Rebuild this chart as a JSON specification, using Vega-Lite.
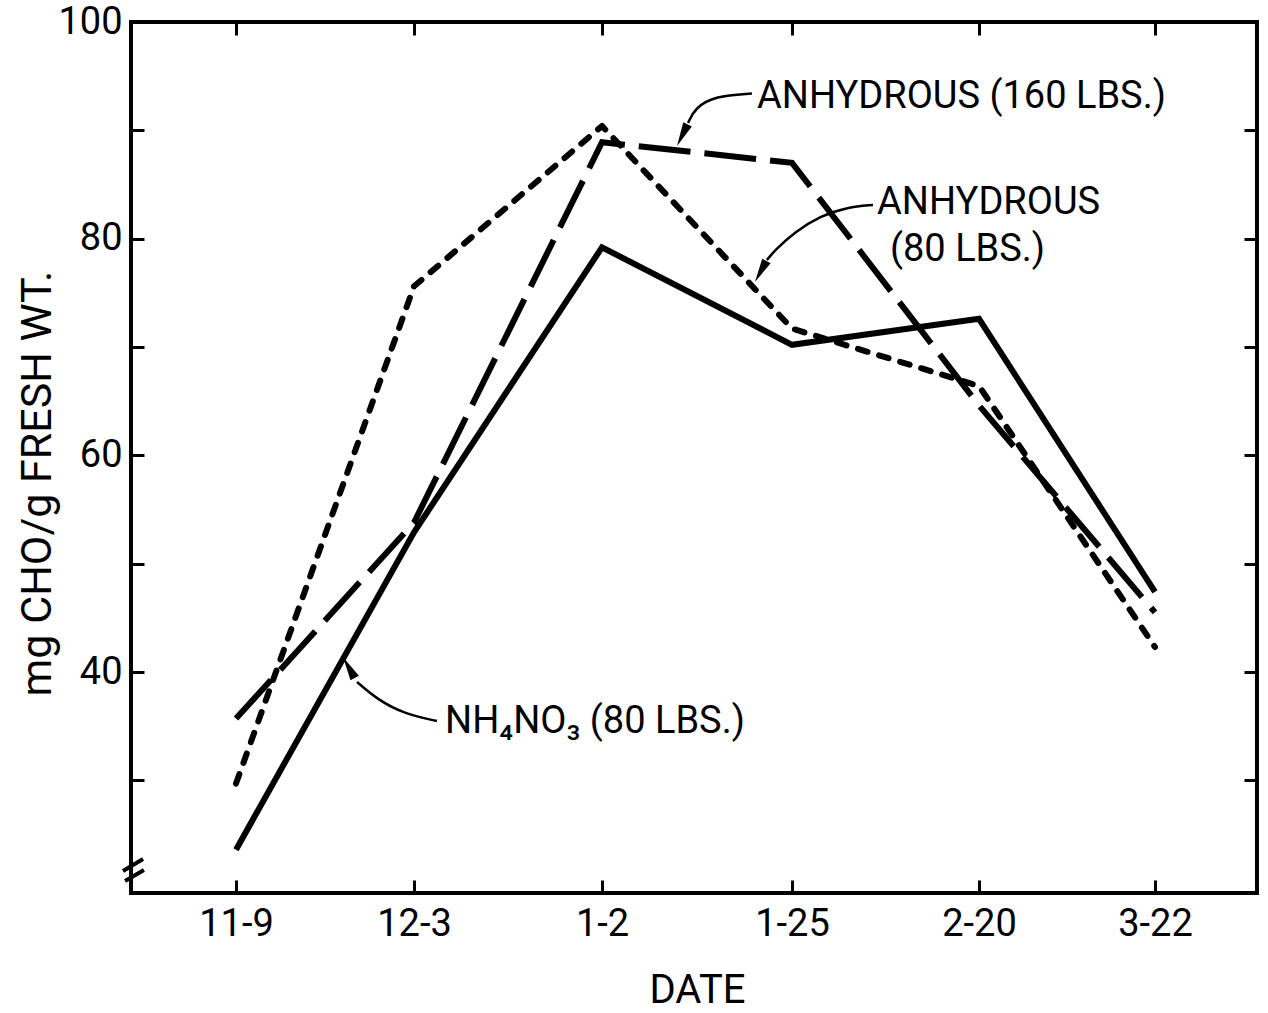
{
  "$schema": "https://vega.github.io/schema/vega-lite/v6.json",
  "width": 1126,
  "height": 871,
  "autosize": {"type": "none"},
  "padding": {"left": 131, "top": 22, "right": 11, "bottom": 120},
  "background": "white",
  "config": {
    "view": {"stroke": "black", "strokeWidth": 4},
    "font": "Roboto",
    "axis": {
      "domain": false,
      "grid": false,
      "tickColor": "black",
      "tickWidth": 3,
      "tickSize": -13,
      "labelFont": "Roboto",
      "labelFontSize": 38,
      "labelColor": "black",
      "titleFont": "Roboto",
      "titleFontSize": 38,
      "titleFontWeight": "normal",
      "titleColor": "black"
    }
  },
  "datasets": {
    "main": [
      {"date": "11-9", "t": 0, "v": 23.6, "series": "NH4NO3 (80 LBS.)"},
      {"date": "12-3", "t": 1, "v": 52.9, "series": "NH4NO3 (80 LBS.)"},
      {"date": "1-2", "t": 2, "v": 79.2, "series": "NH4NO3 (80 LBS.)"},
      {"date": "1-25", "t": 3, "v": 70.2, "series": "NH4NO3 (80 LBS.)"},
      {"date": "2-20", "t": 4, "v": 72.6, "series": "NH4NO3 (80 LBS.)"},
      {"date": "3-22", "t": 5, "v": 47.4, "series": "NH4NO3 (80 LBS.)"},
      {"date": "11-9", "t": 0, "v": 35.7, "series": "ANHYDROUS (160 LBS.)"},
      {"date": "12-3", "t": 1, "v": 53.8, "series": "ANHYDROUS (160 LBS.)"},
      {"date": "1-2", "t": 2, "v": 88.9, "series": "ANHYDROUS (160 LBS.)"},
      {"date": "1-25", "t": 3, "v": 87.0, "series": "ANHYDROUS (160 LBS.)"},
      {"date": "2-20", "t": 4, "v": 64.6, "series": "ANHYDROUS (160 LBS.)"},
      {"date": "3-22", "t": 5, "v": 45.5, "series": "ANHYDROUS (160 LBS.)"},
      {"date": "11-9", "t": 0, "v": 29.7, "series": "ANHYDROUS (80 LBS.)"},
      {"date": "12-3", "t": 1, "v": 75.6, "series": "ANHYDROUS (80 LBS.)"},
      {"date": "1-2", "t": 2, "v": 90.4, "series": "ANHYDROUS (80 LBS.)"},
      {"date": "1-25", "t": 3, "v": 71.7, "series": "ANHYDROUS (80 LBS.)"},
      {"date": "2-20", "t": 4, "v": 66.4, "series": "ANHYDROUS (80 LBS.)"},
      {"date": "3-22", "t": 5, "v": 42.3, "series": "ANHYDROUS (80 LBS.)"}
    ],
    "arrows": [
      {"arrow": "a160", "order": 0, "t": 2.789, "v": 93.4},
      {"arrow": "a160", "order": 1, "t": 2.595, "v": 93.17},
      {"arrow": "a160", "order": 2, "t": 2.489, "v": 92.06},
      {"arrow": "a160", "order": 3, "t": 2.453, "v": 90.68},
      {"arrow": "a80", "order": 0, "t": 3.433, "v": 83.11},
      {"arrow": "a80", "order": 1, "t": 3.299, "v": 82.92},
      {"arrow": "a80", "order": 2, "t": 3.15, "v": 82.09},
      {"arrow": "a80", "order": 3, "t": 3.016, "v": 80.62},
      {"arrow": "a80", "order": 4, "t": 2.911, "v": 78.95},
      {"arrow": "a80", "order": 5, "t": 2.868, "v": 78.03},
      {"arrow": "nh4", "order": 0, "t": 1.122, "v": 35.47},
      {"arrow": "nh4", "order": 1, "t": 0.949, "v": 36.12},
      {"arrow": "nh4", "order": 2, "t": 0.798, "v": 37.41},
      {"arrow": "nh4", "order": 3, "t": 0.68, "v": 39.08}
    ],
    "heads": [
      {"arrow": "a160", "t": 2.395, "v": 88.55},
      {"arrow": "a80", "t": 2.805, "v": 76.0},
      {"arrow": "nh4", "t": 0.601, "v": 41.38}
    ],
    "labels": [
      {"label": "ANHYDROUS (160 LBS.)", "t": 2.816, "v": 93.08},
      {"label": "ANHYDROUS", "t": 3.455, "v": 83.25},
      {"label": "(80 LBS.)", "t": 3.524, "v": 78.95},
      {"label": "NH₄NO₃ (80 LBS.)", "t": 1.165, "v": 35.38}
    ],
    "brk": [
      {"t": -0.646, "v": 21.63, "t2": -0.531, "v2": 22.74},
      {"t": -0.634, "v": 20.7, "t2": -0.526, "v2": 21.72}
    ]
  },
  "encoding": {
    "x": {"field": "t", "type": "quantitative", "axis": null,
      "scale": {"domain": [-0.6, 0, 1, 2, 3, 4, 5, 5.58], "range": [0, 105, 283, 471, 661, 848, 1024, 1126], "nice": false, "zero": false}},
    "y": {"field": "v", "type": "quantitative", "axis": null,
      "scale": {"domain": [19.6, 100], "nice": false, "zero": false}}
  },
  "layer": [
    {
      "data": {"name": "main"},
      "transform": [{"filter": "datum.series == 'NH4NO3 (80 LBS.)'"}],
      "mark": {"type": "line", "color": "black", "strokeWidth": 6, "strokeJoin": "miter"},
      "encoding": {
        "x": {"field": "t", "type": "quantitative",
          "scale": {"domain": [-0.6, 0, 1, 2, 3, 4, 5, 5.58], "range": [0, 105, 283, 471, 661, 848, 1024, 1126], "nice": false, "zero": false},
          "axis": {"orient": "bottom", "values": [0, 1, 2, 3, 4, 5],
            "labelExpr": "['11-9','12-3','1-2','1-25','2-20','3-22'][datum.value]",
            "labelPadding": 25, "title": "DATE", "titleX": 566, "titleY": 77, "titleFontSize": 40}},
        "y": {"field": "v", "type": "quantitative",
          "scale": {"domain": [19.6, 100], "nice": false, "zero": false},
          "axis": {"orient": "left", "values": [30, 40, 50, 60, 70, 80, 90, 100],
            "labelExpr": "datum.value % 20 == 0 ? datum.label : ''",
            "labelPadding": 22, "title": "mg CHO/g FRESH WT.", "titleX": -72, "titleY": 461, "titleFontSize": 43}}
      }
    },
    {
      "data": {"name": "main"},
      "transform": [{"filter": "datum.series == 'ANHYDROUS (160 LBS.)'"}],
      "mark": {"type": "line", "color": "black", "strokeWidth": 6, "strokeDash": [52, 14], "strokeJoin": "miter"},
      "encoding": {
        "x": {"field": "t", "type": "quantitative",
          "scale": {"domain": [-0.6, 0, 1, 2, 3, 4, 5, 5.58], "range": [0, 105, 283, 471, 661, 848, 1024, 1126], "nice": false, "zero": false},
          "axis": {"orient": "top", "values": [0, 1, 2, 3, 4, 5], "labels": false, "title": null}},
        "y": {"field": "v", "type": "quantitative",
          "scale": {"domain": [19.6, 100], "nice": false, "zero": false},
          "axis": {"orient": "right", "values": [30, 40, 50, 60, 70, 80, 90, 100], "labels": false, "title": null}}
      }
    },
    {
      "data": {"name": "main"},
      "transform": [{"filter": "datum.series == 'ANHYDROUS (80 LBS.)'"}],
      "mark": {"type": "line", "color": "black", "strokeWidth": 6, "strokeDash": [10, 12], "strokeCap": "round", "strokeJoin": "round"}
    },
    {
      "data": {"name": "arrows"},
      "mark": {"type": "line", "color": "black", "strokeWidth": 2.5, "interpolate": "basis"},
      "encoding": {
        "detail": {"field": "arrow"},
        "order": {"field": "order", "type": "quantitative"}
      }
    },
    {
      "data": {"name": "heads"},
      "transform": [{"filter": "datum.arrow == 'a160'"}],
      "mark": {"type": "point", "shape": "M0,0 L-0.4,2 L0.4,2 Z", "size": 576, "filled": true, "color": "black", "opacity": 1, "angle": 206}
    },
    {
      "data": {"name": "heads"},
      "transform": [{"filter": "datum.arrow == 'a80'"}],
      "mark": {"type": "point", "shape": "M0,0 L-0.4,2 L0.4,2 Z", "size": 576, "filled": true, "color": "black", "opacity": 1, "angle": 208.6}
    },
    {
      "data": {"name": "heads"},
      "transform": [{"filter": "datum.arrow == 'nh4'"}],
      "mark": {"type": "point", "shape": "M0,0 L-0.4,2 L0.4,2 Z", "size": 576, "filled": true, "color": "black", "opacity": 1, "angle": 330.8}
    },
    {
      "data": {"name": "labels"},
      "mark": {"type": "text", "align": "left", "baseline": "middle", "font": "Roboto", "fontSize": 38, "color": "black"},
      "encoding": {"text": {"field": "label"}}
    },
    {
      "data": {"name": "brk"},
      "mark": {"type": "rule", "color": "black", "strokeWidth": 4},
      "encoding": {
        "x2": {"field": "t2"},
        "y2": {"field": "v2"}
      }
    }
  ],
  "resolve": {"axis": {"x": "independent", "y": "independent"}}
}
